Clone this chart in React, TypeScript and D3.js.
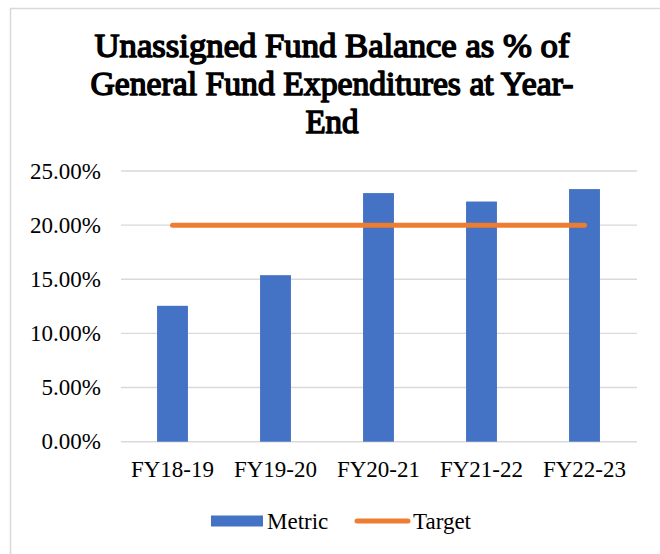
import { useEffect, useRef } from 'react';
import * as d3 from 'd3';

const categories = ['FY18-19', 'FY19-20', 'FY20-21', 'FY21-22', 'FY22-23'];
const metric = [12.55, 15.38, 22.96, 22.18, 23.33];
const target = [20, 20, 20, 20, 20];
const yTicks = [0, 5, 10, 15, 20, 25];
const titleLines = ['Unassigned Fund Balance as % of', 'General Fund Expenditures at Year-', 'End'];

export default function App() {
  const svgRef = useRef<SVGSVGElement>(null);

  useEffect(() => {
    if (!svgRef.current) return;
    const svg = d3.select(svgRef.current);
    svg.selectAll('*').remove();

    const W = 660;
    const H = 554;
    const font = "'Liberation Serif'";

    // chart frame
    svg.append('rect')
      .attr('x', 10.5).attr('y', 8.5)
      .attr('width', W + 20).attr('height', H + 20)
      .attr('fill', '#fff')
      .attr('stroke', '#d9d9d9')
      .attr('stroke-width', 1.5);

    // no bold serif face installed, so thicken the regular one with a stroke
    const titleWidths = [475, 483, 0];
    svg.append('g')
      .selectAll('text')
      .data(titleLines)
      .join('text')
      .attr('x', 332)
      .attr('y', (_, i) => 57 + i * 38)
      .attr('text-anchor', 'middle')
      .style('font-family', font)
      .attr('font-size', 33)
      .attr('fill', '#000')
      .attr('stroke', '#000')
      .attr('stroke-width', 1.5)
      .attr('stroke-linejoin', 'round')
      .each(function (_, i) {
        if (titleWidths[i]) {
          d3.select(this)
            .attr('textLength', titleWidths[i])
            .attr('lengthAdjust', 'spacingAndGlyphs');
        }
      })
      .text(d => d);

    const x = d3.scaleBand<string>()
      .domain(categories)
      .range([121, 636])
      .paddingInner(0.7)
      .paddingOuter(0.35);

    const y = d3.scaleLinear()
      .domain([0, 25])
      .range([441.7, 171]);

    // gridlines
    svg.append('g')
      .selectAll('line')
      .data(yTicks)
      .join('line')
      .attr('x1', 121).attr('x2', 637)
      .attr('y1', d => y(d)).attr('y2', d => y(d))
      .attr('stroke', '#d9d9d9')
      .attr('stroke-width', 1.4);

    svg.append('g')
      .selectAll('text')
      .data(yTicks)
      .join('text')
      .attr('x', 101)
      .attr('y', d => y(d))
      .attr('dy', '0.33em')
      .attr('text-anchor', 'end')
      .style('font-family', font)
      .attr('font-size', 23)
      .text(d => d.toFixed(2) + '%');

    svg.append('g')
      .selectAll('rect')
      .data(metric)
      .join('rect')
      .attr('x', (_, i) => x(categories[i])!)
      .attr('width', x.bandwidth())
      .attr('y', d => y(d))
      .attr('height', d => y(0) - y(d))
      .attr('fill', '#4472C4');

    const cx = (i: number) => x(categories[i])! + x.bandwidth() / 2;

    const line = d3.line<number>()
      .x((_, i) => cx(i))
      .y(d => y(d));

    svg.append('path')
      .datum(target)
      .attr('d', line)
      .attr('fill', 'none')
      .attr('stroke', '#ED7D31')
      .attr('stroke-width', 5)
      .attr('stroke-linecap', 'round');

    svg.append('g')
      .selectAll('text')
      .data(categories)
      .join('text')
      .attr('x', (_, i) => cx(i))
      .attr('y', 476.7)
      .attr('text-anchor', 'middle')
      .style('font-family', font)
      .attr('font-size', 23)
      .text(d => d);

    // legend
    const lg = svg.append('g').style('font-family', font).attr('font-size', 23);
    lg.append('rect')
      .attr('x', 211).attr('y', 515.5)
      .attr('width', 52).attr('height', 11)
      .attr('fill', '#4472C4');
    lg.append('text').attr('x', 267).attr('y', 529).text('Metric');
    lg.append('line')
      .attr('x1', 357).attr('x2', 408)
      .attr('y1', 521).attr('y2', 521)
      .attr('stroke', '#ED7D31')
      .attr('stroke-width', 5)
      .attr('stroke-linecap', 'round');
    lg.append('text').attr('x', 413).attr('y', 529).text('Target');
  }, []);

  return (
    <div style={{ position: 'absolute', left: 0, top: 0 }}>
      <svg ref={svgRef} width={660} height={554} style={{ display: 'block' }} />
    </div>
  );
}
